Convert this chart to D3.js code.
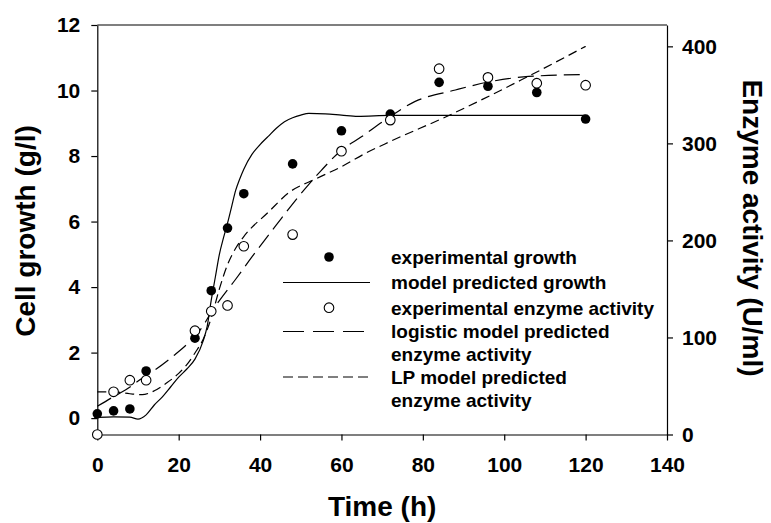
<!DOCTYPE html>
<html>
<head>
<meta charset="utf-8">
<script src="https://cdn.jsdelivr.net/npm/d3@7"></script>
<style>
  html, body { margin: 0; padding: 0; background: #fff; }
  svg { display: block; font-family: "Liberation Sans", Arial, sans-serif; }
</style>
</head>
<body>
<svg id="chart" width="771" height="523"></svg>
<script>
// Sampling times (h) of the fermentation
const sampleTimes = [0, 4, 8, 12, 24, 28, 32, 36, 48, 60, 72, 84, 96, 108, 120];
// Measured cell growth (g/l)
const growthMeasured = [0.13, 0.22, 0.28, 1.44, 2.44, 3.89, 5.80, 6.85, 7.76, 8.77, 9.28, 10.25, 10.13, 9.94, 9.13];
// Measured enzyme activity (U/ml)
const enzymeMeasured = [0, 44, 56, 56, 107, 127, 133, 194, 206, 292, 324, 377, 368, 362, 360];

// Model predicted growth (g/l)
const growthModelT = [0, 4, 8, 10, 12, 14, 16, 18, 20, 22, 24, 26, 27, 28, 29, 30, 31, 32, 33, 34, 35, 36, 38, 40, 42, 44, 46, 48, 50, 52, 56, 60, 64, 72, 120];
const growthModelV = [0.02, 0.04, 0.03, -0.03, 0.1, 0.4, 0.65, 0.95, 1.25, 1.5, 1.8, 2.35, 2.8, 3.6, 4.3, 5.0, 5.5, 5.95, 6.45, 6.95, 7.3, 7.6, 8.05, 8.35, 8.6, 8.85, 9.05, 9.17, 9.25, 9.3, 9.29, 9.25, 9.21, 9.24, 9.24];

// Logistic model predicted enzyme activity (U/ml)
const logisticT = [0, 4, 7, 11, 14, 19, 23, 26, 28, 30, 34, 38, 44, 50, 55, 60, 65, 70, 78, 88, 97, 106, 120];
const logisticV = [29, 39, 46, 58, 66, 82, 97, 112, 126, 138, 160, 183, 216, 248, 272, 293, 307, 322, 343, 355, 364, 369, 371];

// LP model predicted enzyme activity (U/ml)
const lpT = [0, 4, 8, 11, 14, 17, 20, 22, 24, 26, 28, 30, 32, 34, 36, 42, 47, 54, 60, 66, 72, 86, 104, 120];
const lpV = [44, 44, 42, 41, 45, 53, 63, 72, 84, 98, 120, 150, 175, 192, 204, 229, 249, 264, 276, 290, 302, 328, 365, 400];

// Axis ticks
const xTicks = [0, 20, 40, 60, 80, 100, 120, 140];
const yLeftTicks = [0, 2, 4, 6, 8, 10, 12];
const yRightTicks = [0, 100, 200, 300, 400];

// Legend entries
const legendLabels = [
  ["experimental growth"],
  ["model predicted growth"],
  ["experimental enzyme activity"],
  ["logistic model predicted", "enzyme activity"],
  ["LP model predicted", "enzyme activity"]
];

const svg = d3.select("#chart");
const plotLeft = 97.3, plotRight = 667, plotTop = 25, plotBottom = 434.5;

const x = d3.scaleLinear().domain([0, 140]).range([plotLeft, plotRight]);
const yL = d3.scaleLinear().domain([-0.5, 12]).range([plotBottom, plotTop]);
const yR = d3.scaleLinear().domain([0, 422]).range([plotBottom, plotTop]);

// frame top edge
svg.append("line")
  .attr("x1", plotLeft).attr("x2", plotRight).attr("y1", plotTop).attr("y2", plotTop)
  .attr("stroke", "#000").attr("stroke-width", 1.2);

function styleAxis(g, size) {
  g.selectAll("path.domain").attr("stroke", "#000").attr("stroke-width", 1.2);
  g.selectAll(".tick line").attr("stroke", "#000").attr("stroke-width", 1.2);
  g.selectAll(".tick text")
    .attr("fill", "#000")
    .style("font-size", size + "px")
    .style("font-weight", "bold")
    .style("font-family", "'Liberation Sans', Arial, sans-serif");
}

const gx = svg.append("g").attr("transform", `translate(0,${plotBottom})`)
  .call(d3.axisBottom(x).tickValues(xTicks).tickSize(6).tickSizeOuter(0).tickPadding(17).tickFormat(d3.format("d")));
styleAxis(gx, 21);

const gyl = svg.append("g").attr("transform", `translate(${plotLeft},0)`)
  .call(d3.axisLeft(yL).tickValues(yLeftTicks).tickSize(6).tickSizeOuter(0).tickPadding(11).tickFormat(d3.format("d")));
styleAxis(gyl, 21);

const gyr = svg.append("g").attr("transform", `translate(${plotRight},0)`)
  .call(d3.axisRight(yR).tickValues(yRightTicks).tickSize(6).tickSizeOuter(0).tickPadding(9).tickFormat(d3.format("d")));
styleAxis(gyr, 21);

// Axis titles
svg.append("text")
  .attr("x", (plotLeft + plotRight) / 2).attr("y", 516)
  .attr("text-anchor", "middle")
  .style("font-size", "28px").style("font-weight", "bold")
  .text("Time (h)");

svg.append("text")
  .attr("transform", "translate(35,231) rotate(-90)")
  .attr("text-anchor", "middle")
  .style("font-size", "28px").style("font-weight", "bold")
  .text("Cell growth (g/l)");

svg.append("text")
  .attr("transform", "translate(743,228) rotate(90)")
  .attr("text-anchor", "middle")
  .style("font-size", "28px").style("font-weight", "bold")
  .text("Enzyme activity (U/ml)");

// Model curves
const growthLine = d3.line().x(d => x(d[0])).y(d => yL(d[1])).curve(d3.curveMonotoneX);
const enzymeLine = d3.line().x(d => x(d[0])).y(d => yR(d[1])).curve(d3.curveMonotoneX);

svg.append("path")
  .datum(d3.zip(growthModelT, growthModelV))
  .attr("d", growthLine)
  .attr("fill", "none").attr("stroke", "#000").attr("stroke-width", 1.2);

svg.append("path")
  .datum(d3.zip(logisticT, logisticV))
  .attr("d", enzymeLine)
  .attr("fill", "none").attr("stroke", "#000").attr("stroke-width", 1.2)
  .attr("stroke-dasharray", "16,7");

svg.append("path")
  .datum(d3.zip(lpT, lpV))
  .attr("d", enzymeLine)
  .attr("fill", "none").attr("stroke", "#000").attr("stroke-width", 1.2)
  .attr("stroke-dasharray", "9,5");

// Measured points
const r = 4.8;
svg.append("g").selectAll("circle")
  .data(d3.zip(sampleTimes, growthMeasured))
  .join("circle")
  .attr("cx", d => x(d[0])).attr("cy", d => yL(d[1])).attr("r", r)
  .attr("fill", "#000");

svg.append("g").selectAll("circle")
  .data(d3.zip(sampleTimes, enzymeMeasured))
  .join("circle")
  .attr("cx", d => x(d[0])).attr("cy", d => yR(d[1])).attr("r", r)
  .attr("fill", "#fff").attr("stroke", "#000").attr("stroke-width", 1.1);

// Legend
const legend = svg.append("g");
const rowY = [[257], [282.5], [307.7], [331.5, 354], [377, 400]];
const symX = 329, lineX1 = 283, textX = 391;

legendLabels.forEach((lines, i) => {
  lines.forEach((t, j) => {
    legend.append("text")
      .attr("x", textX).attr("y", rowY[i][j]).attr("dy", "0.36em")
      .style("font-size", "19px").style("font-weight", "bold")
      .text(t);
  });
});
legend.append("circle").attr("cx", symX).attr("cy", rowY[0][0]).attr("r", r).attr("fill", "#000");
legend.append("line").attr("x1", lineX1).attr("x2", 370).attr("y1", rowY[1][0]).attr("y2", rowY[1][0])
  .attr("stroke", "#000").attr("stroke-width", 1.2);
legend.append("circle").attr("cx", symX).attr("cy", rowY[2][0]).attr("r", r)
  .attr("fill", "#fff").attr("stroke", "#000").attr("stroke-width", 1.1);
legend.append("line").attr("x1", lineX1).attr("x2", 364).attr("y1", rowY[3][0]).attr("y2", rowY[3][0])
  .attr("stroke", "#000").attr("stroke-width", 1.2).attr("stroke-dasharray", "21,9");
legend.append("line").attr("x1", lineX1).attr("x2", 370).attr("y1", rowY[4][0]).attr("y2", rowY[4][0])
  .attr("stroke", "#000").attr("stroke-width", 1.2).attr("stroke-dasharray", "10,5");
</script>
</body>
</html>
